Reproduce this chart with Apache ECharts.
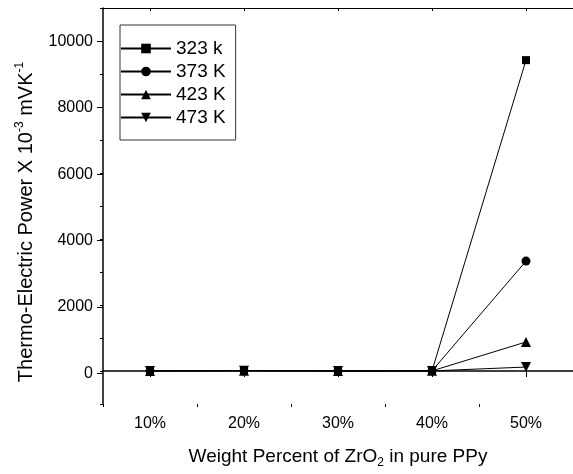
<!DOCTYPE html>
<html><head><meta charset="utf-8">
<script src="https://cdn.jsdelivr.net/npm/echarts@6/dist/echarts.min.js"></script>
<style>html,body{margin:0;padding:0;background:#fff}#c{width:573px;height:474px}</style>
</head><body><div id="c"></div>
<script>
const categories = ['10%', '20%', '30%', '40%', '50%'];
const seriesNames = ['323 k', '373 K', '423 K', '473 K'];
const s323 = [5, 15, 4, 6, 9420];
const s373 = [4, 12, 3, 5, 3330];
const s423 = [3, 10, 2, 4, 880];
const s473 = [2, 8, 2, 3, 120];
const yMin = -1000, yMax = 11000;

const FF = 'Liberation Sans, Arial, sans-serif';
const black = '#000';
const chart = echarts.init(document.getElementById('c'), null, {renderer: 'canvas'});

function mkSeries(name, data, symbol, size) {
  return {
    name: name, type: 'line', data: data, xAxisIndex: 0, yAxisIndex: 0,
    symbol: symbol, symbolSize: size, showSymbol: true,
    lineStyle: {color: black, width: 1},
    itemStyle: {color: black},
    emphasis: {disabled: true}
  };
}

chart.setOption({
  animation: false,
  backgroundColor: '#fff',
  textStyle: {fontFamily: FF},
  grid: [
    {left: 103, top: 8, width: 472, height: 398.7, containLabel: false},
    {left: 103, top: 8, width: 472, height: 365.5, containLabel: false}
  ],
  legend: {
    left: 120, top: 25,
    orient: 'vertical',
    data: seriesNames,
    itemWidth: 50, itemHeight: 12, itemGap: 4,
    padding: [14, 10, 13, 0],
    borderColor: '#333', borderWidth: 1,
    textStyle: {fontSize: 19, color: black, fontFamily: FF},
    selectedMode: false
  },
  xAxis: [
    {
      gridIndex: 0, type: 'category', data: categories, boundaryGap: true, position: 'bottom',
      axisLine: {show: true, lineStyle: {color: black, width: 1.5}},
      axisTick: {show: true, alignWithLabel: true, length: 6, lineStyle: {color: black, width: 1}},
      axisLabel: {show: true, fontSize: 16, color: black, margin: 12, fontFamily: FF},
      splitLine: {show: false},
      name: '{a|Weight Percent of ZrO}{b|2}{a| in pure PPy}',
      nameLocation: 'middle', nameGap: 41,
      nameTextStyle: {
        color: black,
        rich: {
          a: {fontSize: 19, lineHeight: 24, fontFamily: FF, color: black},
          b: {fontSize: 12, lineHeight: 12, fontFamily: FF, color: black, verticalAlign: 'bottom'}
        }
      }
    },
    {
      gridIndex: 0, type: 'category', data: categories, boundaryGap: true, position: 'bottom',
      axisLine: {show: false},
      axisTick: {show: true, length: 3, lineStyle: {color: black, width: 1}},
      axisLabel: {show: false},
      splitLine: {show: false}
    },
    {
      gridIndex: 0, type: 'category', data: categories, boundaryGap: true, position: 'top',
      axisLine: {show: true, lineStyle: {color: black, width: 1}},
      axisTick: {show: true, inside: true, alignWithLabel: true, length: 3, lineStyle: {color: black, width: 1}},
      axisLabel: {show: false},
      splitLine: {show: false}
    },
    {gridIndex: 1, type: 'category', data: categories, show: false}
  ],
  yAxis: [
    {
      gridIndex: 0, type: 'value', min: yMin, max: yMax, interval: 1000,
      axisLine: {show: true, lineStyle: {color: black, width: 1.5}},
      axisTick: {show: true, length: 3, lineStyle: {color: black, width: 1}},
      axisLabel: {show: false},
      splitLine: {show: false},
      name: '{a|Thermo-Electric Power X 10}{s|-3}{a| mVK}{s|-1}',
      nameLocation: 'middle', nameGap: 65,
      nameTextStyle: {
        color: black,
        padding: [0, 32, 0, 0],
        rich: {
          a: {fontSize: 20, lineHeight: 24, fontFamily: FF, color: black},
          s: {fontSize: 12, lineHeight: 12, fontFamily: FF, color: black, verticalAlign: 'top'}
        }
      }
    },
    {
      gridIndex: 1, type: 'value', min: 0, max: yMax, interval: 2000,
      axisLine: {show: false},
      axisTick: {show: true, length: 6, lineStyle: {color: black, width: 1}},
      axisLabel: {show: true, fontSize: 16, color: black, margin: 10, showMaxLabel: false, fontFamily: FF,
        formatter: function (v) { return String(v); }},
      splitLine: {show: false}
    }
  ],
  series: [
    mkSeries(seriesNames[0], s323, 'rect', 8),
    mkSeries(seriesNames[1], s373, 'circle', 9),
    mkSeries(seriesNames[2], s423, 'triangle', 10),
    mkSeries(seriesNames[3], s473, 'path://M0,0 L10,0 L5,9 Z', 10)
  ]
});
</script>
</body></html>
